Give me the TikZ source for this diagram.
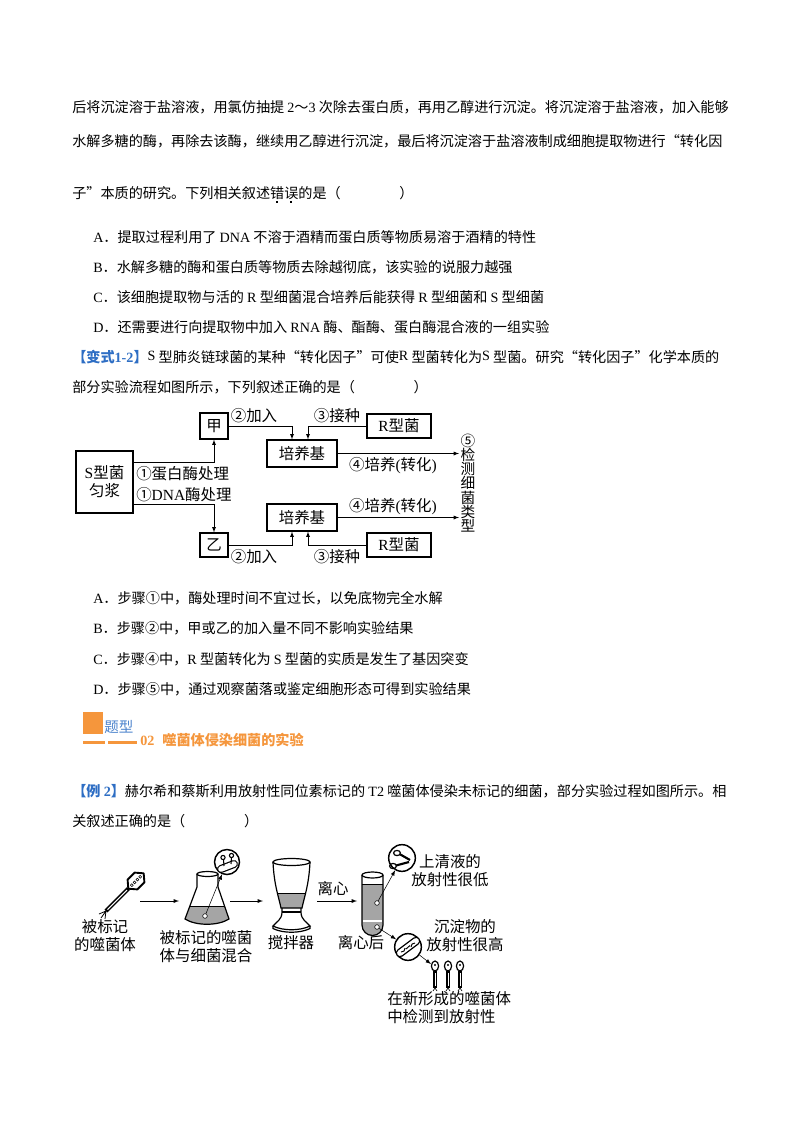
\documentclass[tikz,border=0pt]{standalone}
\usepackage{fontspec}
\setmainfont{Noto Sans CJK SC}
\newfontfamily\latinfont{Liberation Serif}
\usetikzlibrary{positioning,calc}
\definecolor{tiblue}{RGB}{46,110,196}
\definecolor{tiorange}{RGB}{245,150,60}
\definecolor{liquid}{RGB}{165,165,165}
\newcommand\latn[1]{{\latinfont #1}}
\newcommand\bodysize{\fontsize{10.6}{12}\selectfont}
\newcommand\figsize{\fontsize{11.6}{13.5}\selectfont}
\newcommand\emdot[1]{\rlap{\makebox[1em]{\raisebox{-3.4pt}{\rule{1.4pt}{1.4pt}}}}#1}
\newcommand\blank{\hspace{44pt}}
\tikzset{
  line/.style={anchor=base west, inner sep=0pt, font=\bodysize},
  box/.style={draw, line width=0.9pt, inner sep=0pt, font=\figsize},
  lab/.style={inner sep=0pt, font=\figsize},
  figcap/.style={inner sep=0pt, font=\figsize, align=center},
  glass/.style={line width=0.9pt},
  spot/.style={circle, draw, fill=white, inner sep=0pt, minimum size=3.5pt},
  lens/.style={circle, draw, line width=1.1pt, inner sep=0pt},
}
\begin{document}
\begin{tikzpicture}[x=0.75pt, y=-0.75pt, >=latex]
\useasboundingbox[fill=white] (0,0) rectangle (800,1132);

% text of question 1
\node[line] (p1) at (72,112) {后将沉淀溶于盐溶液，用氯仿抽提 \latn{2}～\latn{3} 次除去蛋白质，再用乙醇进行沉淀。将沉淀溶于盐溶液，加入能够};
\node[line] (p2) at (72,146) {水解多糖的酶，再除去该酶，继续用乙醇进行沉淀，最后将沉淀溶于盐溶液制成细胞提取物进行“转化因};
\node[line] (p3) at (72,198) {子”本质的研究。下列相关叙述\emdot{错}\emdot{误}的是（\blank）};
\node[line] (optA) at (93,242) {\latn{A}．提取过程利用了 \latn{DNA} 不溶于酒精而蛋白质等物质易溶于酒精的特性};
\node[line] (optB) at (93,272) {\latn{B}．水解多糖的酶和蛋白质等物质去除越彻底，该实验的说服力越强};
\node[line] (optC) at (93,302) {\latn{C}．该细胞提取物与活的 \latn{R} 型细菌混合培养后能获得 \latn{R} 型细菌和 \latn{S} 型细菌};
\node[line] (optD) at (93,332) {\latn{D}．还需要进行向提取物中加入 \latn{RNA} 酶、酯酶、蛋白酶混合液的一组实验};

% variant 1-2
\node[line] (q2a) at (72,362) {{\color{tiblue}\bfseries【变式\latn{1-2}】}\raisebox{1.5pt}{\latn{S}} 型肺炎链球菌的某种“转化因子”可使\raisebox{1.5pt}{\latn{R}} 型菌转化为\raisebox{1.5pt}{\latn{S}} 型菌。研究“转化因子”化学本质的};
\node[line] (q2b) at (72,392) {部分实验流程如图所示，下列叙述正确的是（\blank）};

% flow chart
\node[box, minimum width=42.75pt, minimum height=46.5pt, align=center] (sjiang) at (104.5,482) {\latn{S}型菌\\匀浆};
\node[box, minimum width=21pt, minimum height=19.5pt] (jia) at (214,426) {甲};
\node[box, minimum width=21pt, minimum height=18pt] (yi) at (214,545) {乙};
\node[box, minimum width=52.5pt, minimum height=20.25pt] (peiA) at (302,453.5) {培养基};
\node[box, minimum width=52.5pt, minimum height=20.25pt] (peiB) at (302,517.5) {培养基};
\node[box, minimum width=48pt, minimum height=18pt] (rA) at (399,426) {\latn{R}型菌};
\node[box, minimum width=48pt, minimum height=18pt] (rB) at (399,545) {\latn{R}型菌};
\node[lab, align=center, font=\fontsize{11}{10.7}\selectfont] (jiance) at (468,483) {⑤\\检\\测\\细\\菌\\类\\型};
\coordinate (mouth) at (459,483);
\draw[->] ($(sjiang.east)+(0,-20)$) -| (jia.south);
\draw[->] ($(sjiang.east)+(0,22)$) -| (yi.north);
\draw[->] (jia.east) -| ($(peiA.north)+(-10,0)$);
\draw[->] (rA.west) -| ($(peiA.north)+(6,0)$);
\draw[->] (peiA.east) -- (peiA.east -| mouth);
\draw[->] (peiB.east) -- (peiB.east -| mouth);
\draw[->] (yi.east) -| ($(peiB.south)+(-10,0)$);
\draw[->] (rB.west) -| ($(peiB.south)+(6,0)$);
\node[lab, anchor=west] (danbai) at (136,474) {①蛋白酶处理};
\node[lab, anchor=west] (dnamei) at (136,495) {①\latn{DNA}酶处理};
\node[lab] (jiaruA) at (254,416) {②加入};
\node[lab] (jiezhongA) at (337,416) {③接种};
\node[lab] (peiyangA) at (393,466) {④培养\latn{(}转化\latn{)}};
\node[lab] (peiyangB) at (393,507) {④培养\latn{(}转化\latn{)}};
\node[lab] (jiaruB) at (254,557) {②加入};
\node[lab] (jiezhongB) at (337,557) {③接种};

% options of variant 1-2
\node[line] (optA2) at (93,603) {\latn{A}．步骤①中，酶处理时间不宜过长，以免底物完全水解};
\node[line] (optB2) at (93,633) {\latn{B}．步骤②中，甲或乙的加入量不同不影响实验结果};
\node[line] (optC2) at (93,664) {\latn{C}．步骤④中，\latn{R} 型菌转化为 \latn{S} 型菌的实质是发生了基因突变};
\node[line] (optD2) at (93,694) {\latn{D}．步骤⑤中，通过观察菌落或鉴定细胞形态可得到实验结果};

% section header
\fill[tiorange] (83,712) rectangle (103,734);
\fill[tiorange] (83,741) rectangle (105,744);
\fill[tiorange] (108,741) rectangle (137,744);
\node[inner sep=0pt, anchor=west, font=\fontsize{10.9}{12}\selectfont, text=tiblue!85] (tixing) at (104,727) {题型};
\node[line, font=\bodysize\bfseries, text=tiorange] (tixingname) at (140,745) {\latn{02}\hspace{6pt}噬菌体侵染细菌的实验};

% example 2
\node[line] (q3a) at (72,796) {{\color{tiblue}\bfseries【例 \latn{2}】}赫尔希和蔡斯利用放射性同位素标记的 \latn{T2} 噬菌体侵染未标记的细菌，部分实验过程如图所示。相};
\node[line] (q3b) at (72,826) {关叙述正确的是（\blank）};

% labelled phage
\draw[line width=1.4pt, line join=round] (143.7,873.3) -- (144.4,882.4) -- (137.4,889.4) -- (128.3,888.7) -- (127.6,879.6) -- (134.6,872.6) -- cycle;
\foreach \px/\py in {140.2/876.8, 137.4/879.6, 134.6/882.4, 131.8/885.2}
  \draw[line width=0.4pt] (\px,\py) circle (1.4);
\draw[line width=3pt] (128.5,888.5) -- (106,911);
\draw[white, line width=0.8pt] (127,890) -- (107.5,909.5);
\draw[line width=0.6pt] (106,911) -- (99,914) (106,911) -- (101,918) (106,911) -- (105,919);
\node[figcap] (capphage) at (105,936) {被标记\\的噬菌体};
\coordinate (phageR) at (140,901);
\coordinate (flaskL) at (179,901);
\draw[->] (phageR) -- (flaskL);

% flask
\begin{scope}
  \clip (197,874) -- (197,887) -- (185,919) .. controls (196,926) and (218,926) .. (229,919) -- (218,887) -- (218,874) -- cycle;
  \fill[liquid] (180,906) rectangle (235,930);
\end{scope}
\draw[glass] (207.5,874) ellipse [x radius=10.5, y radius=2.5];
\draw[glass] (197,874) -- (197,887) -- (185,919) .. controls (196,926) and (218,926) .. (229,919) -- (218,887) -- (218,874);
\draw[line width=0.6pt] (189.9,906) -- (224.5,906);
\node[spot] (flaskdot) at (205,916) {};
\node[lens, minimum size=18.75pt] (zoomA) at (227,862) {};
\draw[->] (flaskdot) -- (zoomA);
\draw[line width=6pt, line cap=round] (221,869) -- (234,864);
\draw[white, line width=4.2pt, line cap=round] (221,869) -- (234,864);
\draw[line width=0.8pt] (224,866) -- (223.5,859.5) (231,864) -- (231.5,857.5);
\draw[line width=0.8pt, fill=white] (223,857.5) circle (2.1) (231.5,855.5) circle (2.1);
\node[figcap] (capflask) at (206,947) {被标记的噬菌\\体与细菌混合};
\coordinate (flaskR) at (230,901);
\coordinate (blendL) at (263,901);
\draw[->] (flaskR) -- (blendL);

% blender
\begin{scope}
  \clip (273,862) .. controls (274,885) and (279,898) .. (281,908) -- (302,908) .. controls (304,898) and (309,885) .. (310,862) -- cycle;
  \fill[liquid] (270,893) rectangle (315,910);
\end{scope}
\draw[glass] (291.5,862) ellipse [x radius=18.5, y radius=3.5];
\draw[glass] (273,862) .. controls (274,885) and (279,898) .. (281,908) -- (302,908) .. controls (304,898) and (309,885) .. (310,862);
\draw[line width=0.6pt] (277.2,893) -- (305.8,893);
\draw[glass] (282,908) -- (282,912) .. controls (282,920) and (276,922) .. (273,926)
  .. controls (283,931) and (300,931) .. (310,926) .. controls (307,922) and (301,920) .. (301,912) -- (301,908);
\draw[glass] (282,912) -- (301,912);
\draw[glass] (273,926) -- (273,928.5) .. controls (283,933.5) and (300,933.5) .. (310,928.5) -- (310,926);
\node[figcap] (capblend) at (291,943) {搅拌器};
\coordinate (blendR) at (317,901);
\coordinate (tubeL) at (357,901);
\draw[->] (blendR) -- (tubeL);
\node[lab] (capspin) at (333,889) {离心};

% centrifuge tube
\begin{scope}
  \clip (362,875) -- (362,925) arc[start angle=180, end angle=0, radius=10.5] -- (383,875) -- cycle;
  \fill[liquid] (358,884) rectangle (388,940);
\end{scope}
\draw[line width=1.2pt, white] (362.8,921) -- (382.2,921);
\draw[glass] (372.5,875) ellipse [x radius=10.5, y radius=3];
\draw[glass] (362,875) -- (362,925) arc[start angle=180, end angle=0, radius=10.5] -- (383,875);
\draw[line width=0.6pt] (362,884) -- (383,884);
\node[figcap] (captube) at (361,943) {离心后};
\node[spot] (tubedotA) at (377,903) {};
\node[spot] (tubedotB) at (377,927) {};
\node[lens, minimum size=20pt] (zoomB) at (402,858) {};
\node[lens, minimum size=20pt] (zoomC) at (408,947) {};
\draw[->] (tubedotA) -- (zoomB);
\draw[->] (tubedotB) -- (zoomC);

% empty coats in supernatant
\draw[line width=0.9pt] (397,853) ellipse [x radius=3.4, y radius=2.6];
\draw[line width=1.6pt] (400.2,854.4) -- (410,860);
\draw[line width=0.9pt] (393,866) ellipse [x radius=3.4, y radius=2.6];
\draw[line width=1.6pt] (396.4,865.4) -- (409,862);
\node[figcap] (capsuper) at (450,871) {上清液的\\放射性很低};

% bacterium in pellet
\draw[line width=6.4pt, line cap=round] (400,953) -- (416,941);
\draw[white, line width=4.4pt, line cap=round] (400,953) -- (416,941);
\draw[line width=0.7pt] (401,952) -- (404,951) -- (405,948) (406,949) -- (410,945.5) (411,947) -- (412,944) -- (415,943);
\node[figcap] (capsed) at (465,935.5) {沉淀物的\\放射性很高};

% progeny phages
\coordinate (brood) at (431,964);
\draw[->] (zoomC.-35) -- (brood);
\foreach \bx in {435,448,460} {
  \draw[line width=0.9pt, fill=white] (\bx,966) ellipse [x radius=3.6, y radius=5];
  \fill (\bx,965) circle (1.1);
  \draw[line width=2.6pt] (\bx,971) -- (\bx,988);
  \draw[white, line width=0.7pt] (\bx,973) -- (\bx,986);
  \draw[line width=0.5pt] (\bx,988) -- (\bx-2,991) (\bx,988) -- (\bx+2,991);
}
\node[figcap, align=left, anchor=west] (capnew) at (387,1007.5) {在新形成的噬菌体\\中检测到放射性};
\end{tikzpicture}
\end{document}
